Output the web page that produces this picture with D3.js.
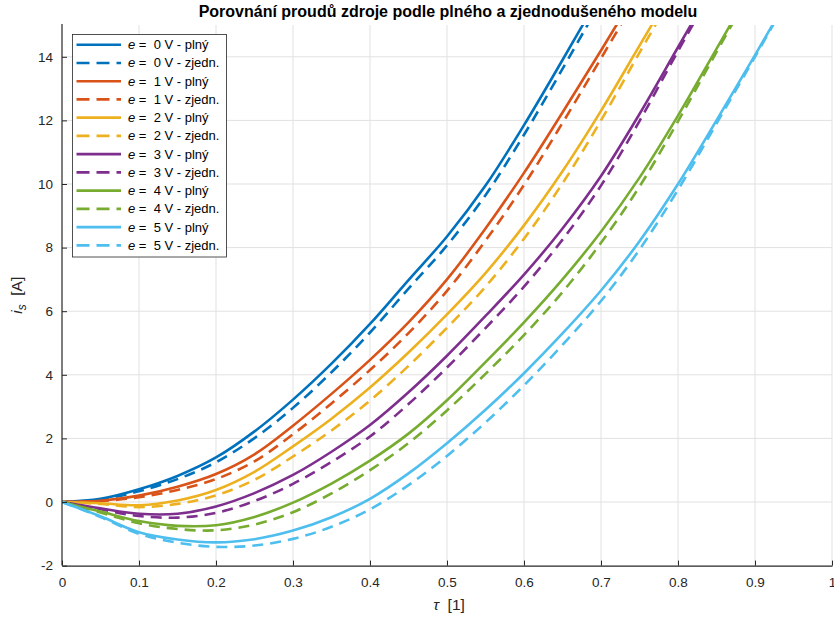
<!DOCTYPE html>
<html>
<head>
<meta charset="utf-8">
<script src="https://cdn.jsdelivr.net/npm/d3@7"></script>
<style>
  body { margin: 0; background: #fff; }
  svg { font-family: "Liberation Sans", Arial, sans-serif; }
  .tick-label { font-size: 13.5px; fill: #262626; }
  .legend-text { font-size: 13px; fill: #000; white-space: pre; }
</style>
</head>
<body>
<svg id="chart" width="834" height="617"></svg>
<script>
const WIDTH = 834;
const HEIGHT = 617;

// time axis samples (tau), step 0.05
const tau = [0, 0.05, 0.1, 0.15, 0.2, 0.25, 0.3, 0.35, 0.4, 0.45, 0.5,
  0.55, 0.6, 0.65, 0.7, 0.75, 0.8, 0.85, 0.9, 0.95];

// source current i_s [A] for each e, full model (plny) and simplified (zjedn.)
const e0Full = [0, 0.1, 0.4, 0.82, 1.4, 2.22, 3.22, 4.35, 5.6, 6.98, 8.35, 9.95, 11.85, 13.9, 16.0];
const e0Simp = [0, 0.08, 0.34, 0.72, 1.25, 2.01, 2.96, 4.08, 5.33, 6.71, 8.07, 9.65, 11.55, 13.62, 15.75];
const e1Full = [0, 0.04, 0.2, 0.48, 0.88, 1.5, 2.4, 3.4, 4.47, 5.65, 7.0, 8.6, 10.35, 12.25, 14.2, 16.2];
const e1Simp = [0, 0.03, 0.15, 0.38, 0.72, 1.28, 2.13, 3.1, 4.15, 5.31, 6.64, 8.22, 9.97, 11.92, 13.95, 16.0];
const e2Full = [0, -0.04, -0.1, 0.05, 0.38, 0.95, 1.75, 2.62, 3.6, 4.7, 5.9, 7.2, 8.7, 10.4, 12.3, 14.35, 16.4];
const e2Simp = [0, -0.06, -0.16, -0.06, 0.21, 0.7, 1.43, 2.25, 3.19, 4.28, 5.48, 6.77, 8.28, 10.02, 12.0, 14.13, 16.22];
const e3Full = [0, -0.2, -0.37, -0.37, -0.14, 0.28, 0.85, 1.58, 2.42, 3.45, 4.6, 5.85, 7.15, 8.6, 10.25, 12.2, 14.3, 16.4];
const e3Simp = [0, -0.23, -0.44, -0.49, -0.34, 0.03, 0.57, 1.26, 2.06, 3.08, 4.23, 5.47, 6.77, 8.25, 9.95, 11.98, 14.18, 16.32];
const e4Full = [0, -0.3, -0.6, -0.75, -0.73, -0.47, -0.02, 0.58, 1.3, 2.15, 3.2, 4.4, 5.65, 7.0, 8.5, 10.2, 12.15, 14.25, 16.35];
const e4Simp = [0, -0.33, -0.67, -0.85, -0.89, -0.71, -0.32, 0.27, 1.0, 1.85, 2.88, 4.03, 5.25, 6.6, 8.15, 9.92, 11.97, 14.15, 16.29];
const e5Full = [0, -0.45, -0.95, -1.18, -1.27, -1.17, -0.9, -0.48, 0.1, 0.9, 1.85, 2.9, 4.05, 5.3, 6.65, 8.2, 10.0, 12.0, 14.05, 16.15];
const e5Simp = [0, -0.47, -1.0, -1.28, -1.41, -1.37, -1.16, -0.78, -0.23, 0.53, 1.45, 2.5, 3.67, 4.94, 6.32, 7.94, 9.82, 11.9, 14.0, 16.13];

const voltages = [0, 1, 2, 3, 4, 5];
const colors = ["#0072BD", "#D95319", "#EDB120", "#7E2F8E", "#77AC30", "#4DBEEE"];
const fullSeries = [e0Full, e1Full, e2Full, e3Full, e4Full, e5Full];
const simpSeries = [e0Simp, e1Simp, e2Simp, e3Simp, e4Simp, e5Simp];

const xTicks = [0, 0.1, 0.2, 0.3, 0.4, 0.5, 0.6, 0.7, 0.8, 0.9, 1];
const yTicks = [-2, 0, 2, 4, 6, 8, 10, 12, 14];

const title = "Porovnání proudů zdroje podle plného a zjednodušeného modelu";

const PLOT = { left: 62, right: 832, top: 25, bottom: 565.6 };

const svg = d3.select("#chart");

const x = d3.scaleLinear().domain([0, 1]).range([PLOT.left, PLOT.right]);
const y = d3.scaleLinear().domain([-2, 15]).range([PLOT.bottom, PLOT.top]);

// grid
svg.append("g")
  .selectAll("line")
  .data(xTicks.filter(d => d > 0))
  .join("line")
  .attr("x1", d => x(d)).attr("x2", d => x(d))
  .attr("y1", PLOT.top).attr("y2", PLOT.bottom)
  .attr("stroke", "#e1e1e1").attr("stroke-width", 1);

svg.append("g")
  .selectAll("line")
  .data(yTicks.filter(d => d > -2))
  .join("line")
  .attr("x1", PLOT.left).attr("x2", PLOT.right)
  .attr("y1", d => y(d)).attr("y2", d => y(d))
  .attr("stroke", "#e1e1e1").attr("stroke-width", 1);

// curves, clipped to the plot area
svg.append("clipPath").attr("id", "plot-clip")
  .append("rect")
  .attr("x", PLOT.left).attr("y", PLOT.top)
  .attr("width", PLOT.right - PLOT.left).attr("height", PLOT.bottom - PLOT.top);

const line = d3.line()
  .x((d, i) => x(tau[i]))
  .y(d => y(d))
  .curve(d3.curveCatmullRom.alpha(0.5));

const series = [];
voltages.forEach((v, k) => {
  series.push({ values: fullSeries[k], color: colors[k], dashed: false, label: `${v} V - plný` });
  series.push({ values: simpSeries[k], color: colors[k], dashed: true, label: `${v} V - zjedn.` });
});

svg.append("g")
  .attr("clip-path", "url(#plot-clip)")
  .selectAll("path")
  .data(series)
  .join("path")
  .attr("d", d => line(d.values))
  .attr("fill", "none")
  .attr("stroke", d => d.color)
  .attr("stroke-width", 2.6)
  .attr("stroke-dasharray", d => d.dashed ? "11,7" : null);

// axes (left + bottom only, ticks pointing inwards)
const axisColor = "#262626";
const yAxis = d3.axisLeft(y).tickValues(yTicks).tickSizeInner(-5).tickSizeOuter(0).tickPadding(9)
  .tickFormat(d => String(d));
const xAxis = d3.axisBottom(x).tickValues(xTicks).tickSizeInner(-5).tickSizeOuter(0).tickPadding(12)
  .tickFormat(d => String(d));

const gy = svg.append("g").attr("transform", `translate(${PLOT.left},0)`).call(yAxis);
const gx = svg.append("g").attr("transform", `translate(0,${PLOT.bottom})`).call(xAxis);

[gx, gy].forEach(g => {
  g.select(".domain").attr("stroke", axisColor).attr("stroke-width", 1.2);
  g.selectAll(".tick line").attr("stroke", axisColor);
  g.selectAll(".tick text").attr("class", "tick-label").attr("font-family", null).attr("font-size", null);
});
gy.select(".domain").attr("d", `M0,${PLOT.top - 1}V${PLOT.bottom}`);

// title
svg.append("text")
  .attr("x", (PLOT.left + PLOT.right) / 2 + 1)
  .attr("y", 16.5)
  .attr("text-anchor", "middle")
  .style("font-size", "16px")
  .style("font-weight", "bold")
  .attr("fill", "#000")
  .text(title);

// axis labels
const xLabel = svg.append("text")
  .attr("x", (PLOT.left + PLOT.right) / 2 + 2)
  .attr("y", 610)
  .attr("text-anchor", "middle")
  .style("font-size", "15.5px")
  .attr("fill", axisColor)
  .style("white-space", "pre");
xLabel.append("tspan").style("font-style", "italic").text("τ");
xLabel.append("tspan").text("  [1]");

const yLabel = svg.append("text")
  .attr("transform", `translate(22,${(PLOT.top + PLOT.bottom) / 2}) rotate(-90)`)
  .attr("text-anchor", "middle")
  .style("font-size", "15.5px")
  .attr("fill", axisColor)
  .style("white-space", "pre");
yLabel.append("tspan").style("font-style", "italic").text("i");
yLabel.append("tspan").attr("dy", 4).style("font-size", "12px").style("font-style", "italic").text("s");
yLabel.append("tspan").attr("dy", -4).text("  [A]");

// legend
const LEG = { x: 72.5, y: 34.5, w: 154, h: 222.5, row: 18.24, first: 44.7 };
const legend = svg.append("g");
legend.append("rect")
  .attr("x", LEG.x).attr("y", LEG.y)
  .attr("width", LEG.w).attr("height", LEG.h)
  .attr("fill", "#fff").attr("stroke", axisColor).attr("stroke-width", 0.8);

const items = legend.selectAll("g.item")
  .data(series)
  .join("g")
  .attr("class", "item")
  .attr("transform", (d, i) => `translate(0,${LEG.first + i * LEG.row})`);

items.append("line")
  .attr("x1", 76.5).attr("x2", 121)
  .attr("stroke", d => d.color)
  .attr("stroke-width", 2.6)
  .attr("stroke-dasharray", d => d.dashed ? "13,7" : null);

const lt = items.append("text")
  .attr("class", "legend-text")
  .attr("x", 128)
  .attr("y", 4.5);
lt.append("tspan").style("font-style", "italic").text("e");
lt.append("tspan").text(d => " =  " + d.label);
</script>
</body>
</html>
